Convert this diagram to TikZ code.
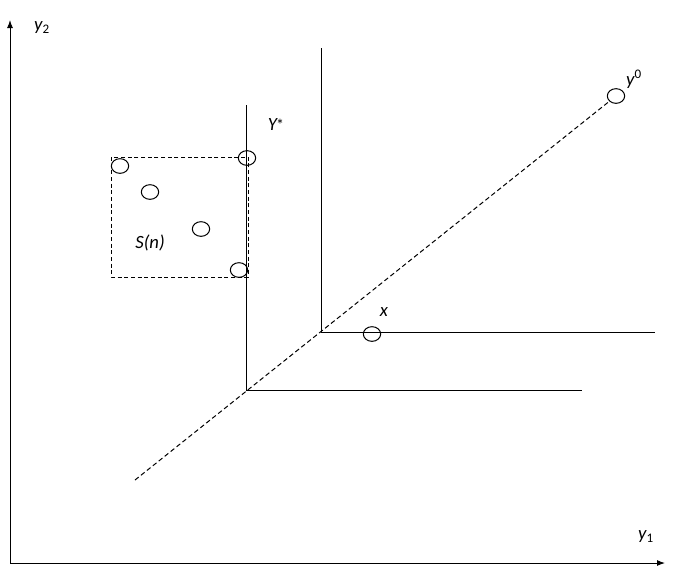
\documentclass[tikz,border=0pt]{standalone}
\usepackage{fontspec}
\setmainfont{Carlito}
\usetikzlibrary{arrows.meta,shapes.geometric}

\begin{document}
\begin{tikzpicture}[x=0.75pt,y=-0.75pt,line width=0.75pt,
  pnt/.style={draw,ellipse,inner sep=0pt,minimum width=13pt,minimum height=11pt},
  lbl/.style={font=\fontsize{14}{16}\selectfont\itshape,inner sep=0pt}]
\useasboundingbox (0,0) rectangle (675,572);
% axes
\coordinate (o) at (10,563);
\coordinate (y2top) at (10,20);
\coordinate (y1end) at (665,563);
\draw[-{Latex[length=6pt,width=4.5pt]}] (o) -- (y2top);
\draw[-{Latex[length=6pt,width=4.5pt]}] (o) -- (y1end);
\node[lbl] (y2lbl) at (42,28) {y\textsubscript{\upshape 2}};
\node[lbl] (y1lbl) at (646,537) {y\textsubscript{\upshape 1}};
% the two orthants
\coordinate (a) at (246,390);
\draw (246,105) -- (a) -- (582,390);
\coordinate (b) at (321,332);
\draw (321,48) -- (b) -- (655,332);
% points
\node[pnt] (ystar) at (247,158) {};
\node[pnt] (s1) at (120,166) {};
\node[pnt] (s2) at (150,192) {};
\node[pnt] (s3) at (201,229) {};
\node[pnt] (s4) at (239,270) {};
\node[pnt] (x) at (372,334) {};
\node[pnt] (y0) at (616,96) {};
% dashed ray and box
\coordinate (start) at (135,480);
\draw[dash pattern=on 3.5pt off 2.2pt] (start) -- (y0);
\draw[dash pattern=on 3pt off 2pt] (111,157) rectangle (248,277);
% labels
\node[lbl] (ystarlbl) at (276,125) {Y\kern-0.5pt{\upshape\fontsize{12}{14}\selectfont *}};
\node[lbl] (y0lbl) at (634,79) {y\textsuperscript{\upshape 0}};
\node[lbl] (xlbl) at (384,312) {x};
\node[lbl] (snlbl) at (150,243) {S(n)};
\end{tikzpicture}
\end{document}
